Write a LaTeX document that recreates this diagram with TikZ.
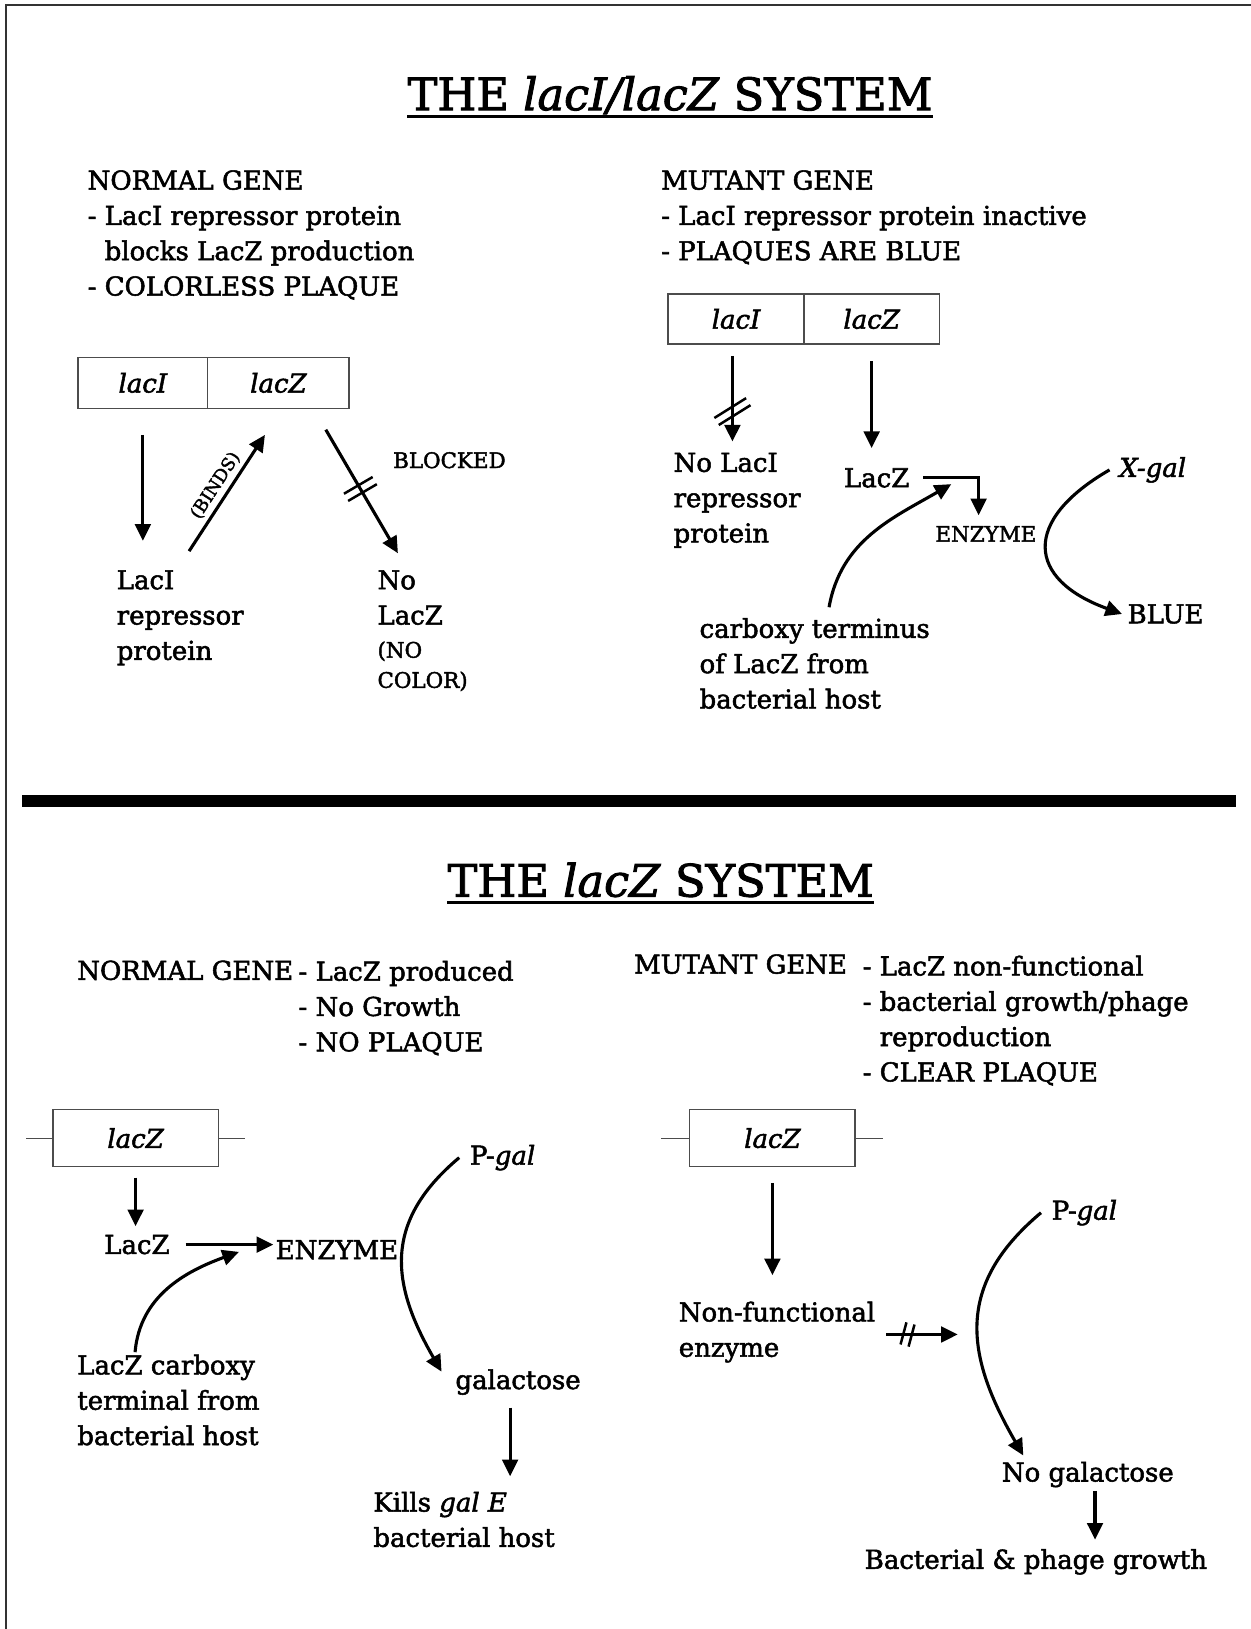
\documentclass[tikz,border=0pt]{standalone}
\usepackage{fontspec}
\setmainfont{DejaVu Serif}[FakeBold=2]
\usetikzlibrary{arrows.meta,decorations.markings}

\tikzset{
  txt/.style={font=\fontsize{12.5}{17}\selectfont, align=left, inner sep=0pt, anchor=north west},
  small/.style={font=\fontsize{10.3}{14.5}\selectfont, align=left, inner sep=0pt},
  title/.style={font=\fontsize{21.5}{26}\selectfont, inner sep=0pt, anchor=base},
  genebox/.style={draw=black!70, line width=0.6pt, inner sep=0pt, font=\fontsize{12.5}{15}\selectfont\itshape},
  arr/.style={line width=1.5pt, -{Triangle[length=8pt, width=7.5pt]}},
  stub/.style={draw=black!70, line width=0.6pt},
  cut/.style n args={3}{postaction={decorate, decoration={markings,
      mark=at position #2 with {\draw[-, line width=1.2pt, rotate=#1]
        (-2pt, -#3) to (-2pt, #3) (2pt, -#3) to (2pt, #3);}}}}
}

\begin{document}
\begin{tikzpicture}[x=0.5pt, y=-0.5pt]
      \useasboundingbox (0, 0) rectangle (1204, 1568);
      \draw[line width=1pt, black!80] (1204, 4.8) to (6, 4.8) to (6, 1568);

      \node[title] (t1) at (645, 106){THE \textit{lacI/lacZ} SYSTEM};
      \draw[line width=1.6pt] ([yshift=-3pt]t1.base west) to ([yshift=-3pt]t1.base east);

      \node[txt] (ng1) at (84, 163.5){NORMAL GENE\\- LacI repressor protein\\\hphantom{- }blocks LacZ production\\- COLORLESS PLAQUE};
      \node[txt] (mg1) at (636, 163.5){MUTANT GENE\\- LacI repressor protein inactive\\- PLAQUES ARE BLUE};

      \node[genebox, minimum width=62.5pt, minimum height=24.5pt] (lI) at (137.5, 368.5){lacI};
      \node[genebox, minimum width=68pt, minimum height=24.5pt] (lZ) at (268, 368.5){lacZ};
      \node[txt] (rep) at (112, 548.5){LacI\\repressor\\protein};
      \node[txt] (noL) at (363, 548.5){No\\LacZ};
      \node[small, anchor=north west] (nocol) at (363, 617){(NO\\COLOR)};
      \node[small, anchor=west] (blk) at (378, 443){BLOCKED};

      \draw[arr, shorten <=12.5pt, shorten >=14pt] (lI.south) to (lI.south |- rep.north);
      \draw[arr] ([shift={(70, -18)}]rep.north west) to node[sloped, above, inner sep=2pt, font=\fontsize{8.5}{10}\selectfont] (binds){(BINDS)} ([shift={(-13, 25)}]lZ.south);
      \draw[arr, cut={0}{0.48}{8pt}] ([shift={(-23, 20)}]lZ.south east) to ([shift={(20, -16)}]noL.north west);

      \node[genebox, minimum width=65.5pt, minimum height=24pt] (rI) at (708.5, 307){lacI};
      \node[genebox, minimum width=65pt, minimum height=24pt] (rZ) at (839, 307){lacZ};
      \node[txt] (nl) at (648, 435.5){No LacI\\repressor\\protein};
      \node[txt, anchor=west] (rLZ) at (812, 460){LacZ};
      \node[small, anchor=west] (renz) at (900, 514){ENZYME};
      \node[txt] (carb) at (673, 594.5){carboxy terminus\\of LacZ from\\bacterial host};
      \node[txt, anchor=base west] (xg) at (1077, 459){\textit{X-gal}};
      \node[txt, anchor=west] (bl) at (1085, 591){BLUE};

      \draw[arr, cut={32}{0.65}{9pt}] ([shift={(-3.5, 11)}]rI.south) to ([shift={(57, -10.5)}]nl.north west);
      \draw[arr, shorten <=8pt, shorten >=9.5pt] (rZ.south) to (rZ.south |- rLZ.north);
      \draw[arr] ([xshift=6.5pt]rLZ.east) -| ([shift={(-7, -10)}]renz.north);
      \draw[arr] ([shift={(125, -10)}]carb.north west) to[out=80, in=210] ([shift={(40, 6)}]rLZ.east);
      \draw[arr] ([xshift=-4.5pt]xg.west) to[out=210, in=160, looseness=1.8] ([xshift=-2.5pt]bl.west);

      \fill (21, 765) rectangle (1190, 777);

      \node[title] (t2) at (636, 863){THE \textit{lacZ} SYSTEM};
      \draw[line width=1.6pt] ([yshift=-3pt]t2.base west) to ([yshift=-3pt]t2.base east);

      \node[txt, anchor=west] (ng3) at (74, 934){NORMAL GENE};
      \node[txt] (ng3l) at (287, 924.5){- LacZ produced\\- No Growth\\- NO PLAQUE};
      \node[genebox, minimum width=79.5pt, minimum height=27.5pt] (bZ) at (130.5, 1095.5){lacZ};
      \draw[stub] (bZ.west) to ++(-25, 0);
      \draw[stub] (bZ.east) to ++(25, 0);
      \node[txt, anchor=west] (bLZ) at (100, 1198){LacZ};
      \node[txt, anchor=west] (benz) at (265, 1203){ENZYME};
      \node[txt] (bcarb) at (74, 1303.5){LacZ carboxy\\terminal from\\bacterial host};
      \node[txt, anchor=base west] (pg1) at (452, 1121){P-\textit{gal}};
      \node[txt, anchor=base west] (gal) at (438, 1337){galactose};
      \node[txt] (kill) at (359, 1435.5){Kills \textit{gal E}\\bacterial host};

      \draw[arr, shorten <=5pt, shorten >=4pt] (bZ.south) to (bZ.south |- bLZ.north);
      \draw[arr, shorten <=7.5pt, shorten >=1pt] (bLZ.east) to (bLZ.east -| benz.west);
      \draw[arr] ([shift={(56, -2)}]bcarb.north west) to[out=85, in=200] ([shift={(-35, 2)}]benz.west);
      \draw[arr] ([xshift=-5pt]pg1.west) to[out=220, in=120, looseness=1.2] ([shift={(-13, -10)}]gal.west);
      \draw[arr] ([shift={(53, 12)}]gal.south west) to ([shift={(53, 78)}]gal.south west);

      \node[txt, anchor=west] (mg3) at (610, 928){MUTANT GENE};
      \node[txt] (mg3l) at (830, 919.5){- LacZ non-functional\\- bacterial growth/phage\\\hphantom{- }reproduction\\- CLEAR PLAQUE};
      \node[genebox, minimum width=79.5pt, minimum height=27.5pt] (mZ) at (743.5, 1095.5){lacZ};
      \draw[stub] (mZ.west) to ++(-27, 0);
      \draw[stub] (mZ.east) to ++(26, 0);
      \node[txt] (nf) at (653, 1252.5){Non-functional\\enzyme};
      \node[txt, anchor=base west] (pg2) at (1012, 1174){P-\textit{gal}};
      \node[txt, anchor=base west] (ngal) at (964, 1426){No galactose};
      \node[txt, anchor=base west] (bpg) at (832, 1510){Bacterial \& phage growth};

      \draw[arr, shorten <=7.5pt, shorten >=12.5pt] (mZ.south) to (mZ.south |- nf.north);
      \draw[arr, cut={-15}{0.3}{5.5pt}] ([shift={(10, 32)}]nf.north east) to ([shift={(79, 32)}]nf.north east);
      \draw[arr] ([xshift=-5pt]pg2.west) to[out=220, in=120, looseness=1.2] ([shift={(21, -25)}]ngal.base west);
      \draw[arr] ([shift={(90, 9)}]ngal.base west) to ([shift={(90, 56)}]ngal.base west);
\end{tikzpicture}
\end{document}
